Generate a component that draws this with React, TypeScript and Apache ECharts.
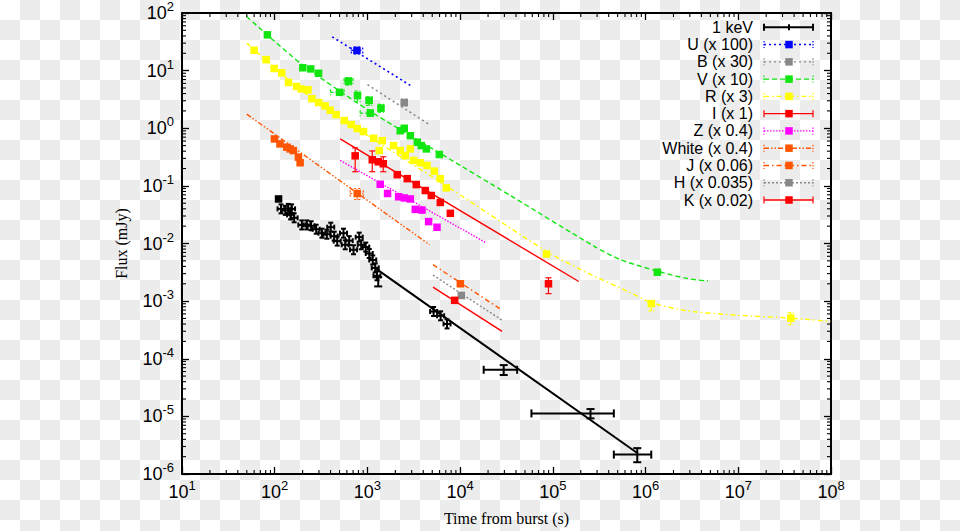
import React, { useEffect, useRef } from 'react';
import * as echarts from 'echarts';

// ---------- DATA (time in s, flux in mJy; optional: tLo, tHi, fLo, fHi) ----------
const XRAY_FIRST = [[110, 0.0593]];
const XRAY_PTS = [
  [117, 0.0399], [130, 0.0376], [140, 0.0407], [152, 0.0399], [148.5, 0.0314], [162, 0.0279],
  [196, 0.021], [222, 0.021], [247, 0.0203], [280, 0.0177], [323, 0.0151], [365, 0.0145],
  [402, 0.0192], [438, 0.0134], [472, 0.011], [552, 0.0151], [576, 0.0095], [636, 0.0112],
  [708, 0.00779], [815, 0.0129], [857, 0.0095], [959, 0.00867], [1046, 0.0067], [1141, 0.00518],
  [1214, 0.00377], [1267, 0.00275], [1308, 0.00217, 1308, 1308, 0.0018, 0.0026],
  [5173, 6.6e-4], [6157, 5.56e-4], [7220, 4.02e-4],
  [29500, 6.44e-5, 17940, 41170, 5.22e-5, 7.76e-5],
  [254700, 1.126e-5, 58750, 454700, 9.24e-6, 1.34e-5],
  [813600, 2.17e-6, 454700, 1152000, 1.6e-6, 2.81e-6],
];
const XRAY_FIT = [[1245, 0.003625], [813600, 2.31e-6]];

const U_PTS = [[770, 22.4, 670, 890, 19.5, 25.5]];
const U_FIT = [[417, 38.6], [3020, 5.32]];

const B_PTS = [[2495, 2.79, 2400, 2600, 2.45, 3.2]];
const B_FIT = [[1002, 5.7], [4570, 1.18]];

const V_PTS = [
  [83.4, 41.8], [201, 11.2], [245, 10.7], [297, 9.0],
  [500, 4.2, 400, 560, 3.8, 4.6], [625, 6.58, 560, 700, 5.6, 7.6], [782, 3.68, 760, 800, 2.9, 4.4],
  [1045, 3.05, 960, 1130, 2.5, 3.5], [1072, 1.83, 835, 1150, 1.6, 2.1], [1400, 2.23, 1300, 1500, 1.9, 2.6],
  [2260, 0.906], [2495, 1.0], [2900, 0.743], [3450, 0.572], [3810, 0.5], [4320, 0.438], [5960, 0.35],
  [1340000, 0.00318],
];
const V_FIT = [
  [50, 86.4], [188, 13.6], [988, 2.14], [6640, 0.337], [34800, 0.0681], [277000, 0.00902],
  [537000, 0.00524], [1340000, 0.00331], [2820000, 0.00247], [4710000, 0.00223],
];

const R_PTS = [
  [59.9, 22.6], [80.8, 15.5], [98.5, 10.9], [119, 9.16], [141, 6.24], [172, 5.32], [193, 4.82],
  [229, 4.64], [252, 3.25], [298, 2.79], [350, 2.44], [397, 2.06], [460, 1.72], [562, 1.36],
  [668, 1.16], [776, 0.988], [908, 0.877], [1170, 0.67], [1445, 0.609], [1341, 0.41], [1913, 0.5],
  [2260, 0.41], [2900, 0.4385], [2560, 0.336], [3146, 0.276], [3717, 0.252], [4390, 0.226],
  [5265, 0.18], [6113, 0.1335], [7096, 0.0924], [85300, 0.00657],
  [1153000, 9.06e-4, 1153000, 1153000, 6.8e-4, 1.0e-3],
  [36800000, 5.06e-4, 36800000, 36800000, 3.89e-4, 6.33e-4],
];
const R_FIT = [
  [50, 30.1], [188, 4.73], [988, 0.764], [7840, 0.0899], [85300, 0.00731], [234600, 0.0031],
  [689000, 0.0014], [1153000, 9.42e-4], [2820000, 6.78e-4], [9780000, 5.7e-4], [36800000, 5.06e-4],
  [99600000, 4.44e-4],
];

const I_PTS = [
  [738, 0.332, 690, 790, 0.176, 0.456], [1127, 0.2836, 1080, 1180, 0.176, 0.404], [1308, 0.262],
  [1481, 0.242, 1420, 1540, 0.176, 0.32], [2099, 0.1565], [2690, 0.1335], [3365, 0.1053],
  [4210, 0.083], [4887, 0.0681], [6113, 0.0516], [7840, 0.0334],
  [89700, 0.002, 86000, 93000, 0.00135, 0.00254],
];
const I_FIT = [[508, 0.652], [190400, 0.00219]];

const Z_PTS = [
  [1375, 0.1066], [1649, 0.0737], [2168, 0.0647], [2496, 0.0617], [2900, 0.0593],
  [3283, 0.0391], [3878, 0.038], [4570, 0.024], [5630, 0.01915],
];
const Z_FIT = [[508, 0.276], [18720, 0.01045]];

const WHITE_PTS = [
  [99.3, 0.652], [114, 0.535], [135, 0.469], [146.7, 0.438], [159, 0.41], [180, 0.3155], [188, 0.252],
  [776, 0.0737, 652, 902, 0.058, 0.09],
];
const WHITE_FIT = [[50, 1.756], [4684, 0.0095]];

const J_PTS = [[10050, 0.002]];
const J_FIT = [[5096, 0.0043], [28350, 6.95e-4]];

const H_PTS = [[10300, 0.001258]];
const H_FIT = [[5096, 0.002825], [28350, 4.67e-4]];

const K_PTS = [[8726, 0.001032]];
const K_FIT = [[5096, 0.001755], [28350, 2.99e-4]];

const X_DECADES = [1, 2, 3, 4, 5, 6, 7];
const Y_DECADES = [-6, -5, -4, -3, -2, -1, 0, 1];
const MINOR_MULTS = [2, 3, 4, 5, 6, 7, 8, 9];

// ---------- STYLE ----------
const GREEN = '#11e611';
const ORANGE = '#ff5500';
const GRAY = '#888888';

type Def = {
  name: string; color: string; dash: number[] | null; width: number;
  pts: number[][]; fit: number[][]; smooth?: boolean; errDash: number[] | null; kind: 'sq' | 'xr';
};

const DEFS: Def[] = [
  { name: '1 keV', color: '#000000', dash: null, width: 2, pts: XRAY_PTS, fit: XRAY_FIT, errDash: null, kind: 'xr' },
  { name: 'U (x 100)', color: '#0000ff', dash: [2, 3], width: 1.6, pts: U_PTS, fit: U_FIT, errDash: [2, 2], kind: 'sq' },
  { name: 'B (x 30)', color: GRAY, dash: [2, 3], width: 1.6, pts: B_PTS, fit: B_FIT, errDash: [2, 2], kind: 'sq' },
  { name: 'V (x 10)', color: GREEN, dash: [5, 3], width: 1.4, pts: V_PTS, fit: V_FIT, smooth: true, errDash: [3, 2], kind: 'sq' },
  { name: 'R (x 3)', color: '#ffff00', dash: [5, 3, 1.5, 3], width: 1.4, pts: R_PTS, fit: R_FIT, smooth: true, errDash: [3, 2], kind: 'sq' },
  { name: 'I (x 1)', color: '#ff0000', dash: null, width: 1.4, pts: I_PTS, fit: I_FIT, errDash: null, kind: 'sq' },
  { name: 'Z (x 0.4)', color: '#ff00ff', dash: [1.5, 1.5], width: 1.4, pts: Z_PTS, fit: Z_FIT, errDash: [1.5, 1.5], kind: 'sq' },
  { name: 'White (x 0.4)', color: ORANGE, dash: [5, 2, 1.5, 2, 1.5, 2], width: 1.4, pts: WHITE_PTS, fit: WHITE_FIT, errDash: [2, 2], kind: 'sq' },
  { name: 'J (x 0.06)', color: ORANGE, dash: [5, 3, 1.5, 3], width: 1.4, pts: J_PTS, fit: J_FIT, errDash: [2, 2], kind: 'sq' },
  { name: 'H (x 0.035)', color: GRAY, dash: [2, 2], width: 1.4, pts: H_PTS, fit: H_FIT, errDash: [2, 2], kind: 'sq' },
  { name: 'K (x 0.02)', color: '#ff0000', dash: null, width: 1.4, pts: K_PTS, fit: K_FIT, errDash: null, kind: 'sq' },
];

const SQ = 7.5;

const norm = (pts: number[][]) =>
  pts.map((p) => (p.length >= 6 ? p : [p[0], p[1], p[0], p[0], p[1], p[1]]));

function makeRender(color: string, errDash: number[] | null, kind: 'sq' | 'xr' | 'xrsq') {
  return (_params: any, api: any) => {
    const t = api.value(0), f = api.value(1);
    const tl = api.value(2), th = api.value(3), fl = api.value(4), fh = api.value(5);
    const c = api.coord([t, f]);
    const kids: any[] = [];
    const lw = kind === 'sq' ? 1.2 : 2;
    const st: any = { stroke: color, lineWidth: lw, fill: null };
    if (errDash) st.lineDash = errDash;
    const ln = (x1: number, y1: number, x2: number, y2: number) =>
      kids.push({ type: 'line', shape: { x1, y1, x2, y2 }, style: st });
    const hasErr = tl !== t || th !== t || fl !== f || fh !== f;
    if (hasErr) {
      const cap = kind === 'sq' ? 3 : 4;
      if (tl !== t || th !== t) {
        const a = api.coord([tl, f])[0], b = api.coord([th, f])[0];
        ln(a, c[1], b, c[1]); ln(a, c[1] - cap, a, c[1] + cap); ln(b, c[1] - cap, b, c[1] + cap);
      }
      if (fl !== f || fh !== f) {
        const a = api.coord([t, fl])[1], b = api.coord([t, fh])[1];
        ln(c[0], a, c[0], b); ln(c[0] - cap, a, c[0] + cap, a); ln(c[0] - cap, b, c[0] + cap, b);
      }
    } else if (kind === 'xr') {
      ln(c[0] - 3.5, c[1], c[0] + 3.5, c[1]);
      ln(c[0] - 3.5, c[1] - 2.5, c[0] - 3.5, c[1] + 2.5);
      ln(c[0] + 3.5, c[1] - 2.5, c[0] + 3.5, c[1] + 2.5);
      ln(c[0], c[1] - 4.5, c[0], c[1] + 4.5);
      ln(c[0] - 2.5, c[1] - 4.5, c[0] + 2.5, c[1] - 4.5);
      ln(c[0] - 2.5, c[1] + 4.5, c[0] + 2.5, c[1] + 4.5);
    }
    if (kind === 'sq' || kind === 'xrsq') {
      kids.push({ type: 'rect', shape: { x: c[0] - SQ / 2, y: c[1] - SQ / 2, width: SQ, height: SQ }, style: { fill: color } });
    }
    return { type: 'group', children: kids };
  };
}

const X_MINOR = X_DECADES.flatMap((e) => MINOR_MULTS.map((m) => m * Math.pow(10, e)));
const Y_MINOR = Y_DECADES.flatMap((e) => MINOR_MULTS.map((m) => m * Math.pow(10, e)));

const tickLabel = (v: number) => {
  const e = Math.round(Math.log10(v));
  return '{b|10}{s|' + e + '}';
};
const RICH = {
  b: { fontSize: 18, fontFamily: 'Liberation Sans', color: '#000', lineHeight: 26 },
  s: { fontSize: 13, fontFamily: 'Liberation Sans', color: '#000', lineHeight: 13, verticalAlign: 'top' },
};

function buildOption() {
  const axisCommon: any = {
    type: 'log', logBase: 10, interval: 1,
    splitLine: { show: false },
    axisLine: { onZero: false, lineStyle: { color: '#000', width: 2 } },
    axisTick: { inside: true, length: 7, lineStyle: { color: '#000', width: 1.3 } },
    minorTick: { show: false },
  };
  const series: any[] = [];
  DEFS.forEach((d) => {
    series.push({
      type: 'line', name: d.name + ' fit', data: d.fit, showSymbol: false, symbol: 'none',
      silent: true, smooth: d.smooth ? 0.25 : false, z: 2,
      lineStyle: { color: d.color, width: d.width, type: d.dash || 'solid' },
    });
  });
  DEFS.forEach((d) => {
    series.push({
      type: 'custom', name: d.name, data: norm(d.pts), encode: { x: 0, y: 1 },
      renderItem: makeRender(d.color, d.errDash, d.kind), silent: true, z: 3, clip: false,
    });
  });
  series.push({
    type: 'custom', name: 'xray-first', data: norm(XRAY_FIRST), encode: { x: 0, y: 1 },
    renderItem: makeRender('#000', null, 'xrsq'), silent: true, z: 3,
  });
  series.push({
    type: 'custom', name: 'xminor', data: X_MINOR.map((v) => [v, 1]), encode: { x: 0, y: 1 }, silent: true, z: 5, clip: false,
    renderItem: (params: any, api: any) => {
      const cs = params.coordSys;
      const x = api.coord([api.value(0), 1])[0];
      const st = { stroke: '#000', lineWidth: 1.1 };
      return {
        type: 'group', children: [
          { type: 'line', shape: { x1: x, y1: cs.y + cs.height, x2: x, y2: cs.y + cs.height - 4 }, style: st },
          { type: 'line', shape: { x1: x, y1: cs.y, x2: x, y2: cs.y + 4 }, style: st },
        ],
      };
    },
  });
  series.push({
    type: 'custom', name: 'yminor', data: Y_MINOR.map((v) => [100, v]), encode: { x: 0, y: 1 }, silent: true, z: 5, clip: false,
    renderItem: (params: any, api: any) => {
      const cs = params.coordSys;
      const y = api.coord([100, api.value(1)])[1];
      const st = { stroke: '#000', lineWidth: 1.1 };
      return {
        type: 'group', children: [
          { type: 'line', shape: { x1: cs.x, y1: y, x2: cs.x + 4, y2: y }, style: st },
          { type: 'line', shape: { x1: cs.x + cs.width, y1: y, x2: cs.x + cs.width - 4, y2: y }, style: st },
        ],
      };
    },
  });

  const legend: any[] = [];
  const y0 = 27.3, dy = 17.27;
  DEFS.forEach((d, i) => {
    const y = y0 + i * dy;
    legend.push({
      type: 'text', x: 753, y,
      style: {
        text: d.name, fill: '#000', fontSize: 16, fontFamily: 'Liberation Sans',
        align: 'right', verticalAlign: 'middle', textAlign: 'right', textVerticalAlign: 'middle',
      },
    });
    const ls: any = { stroke: d.color, lineWidth: d.name === '1 keV' ? 2 : 1.4 };
    if (d.dash) ls.lineDash = d.dash;
    legend.push({ type: 'line', shape: { x1: 764, y1: y, x2: 813, y2: y }, style: ls });
    const cs: any = { stroke: d.color, lineWidth: d.name === '1 keV' ? 2 : 1.2 };
    if (d.errDash) cs.lineDash = [1.5, 1.5];
    legend.push({ type: 'line', shape: { x1: 764, y1: y - 3.5, x2: 764, y2: y + 3.5 }, style: cs });
    legend.push({ type: 'line', shape: { x1: 813, y1: y - 3.5, x2: 813, y2: y + 3.5 }, style: cs });
    if (d.kind === 'xr') {
      legend.push({ type: 'line', shape: { x1: 789, y1: y - 3, x2: 789, y2: y + 3 }, style: { stroke: '#000', lineWidth: 2 } });
    } else {
      legend.push({ type: 'rect', shape: { x: 789 - SQ / 2, y: y - SQ / 2, width: SQ, height: SQ }, style: { fill: d.color } });
    }
  });

  return {
    animation: false,
    backgroundColor: 'transparent',
    grid: { left: 182, top: 13, width: 649, height: 465, containLabel: false },
    xAxis: [
      {
        ...axisCommon, min: 10, max: 1e8, position: 'bottom',
        axisLabel: { formatter: tickLabel, rich: RICH, margin: 5, color: '#000' },
        name: 'Time from burst (s)', nameLocation: 'middle', nameGap: 36,
        nameTextStyle: { fontFamily: 'Liberation Serif', fontSize: 16, color: '#000' },
      },
      { ...axisCommon, min: 10, max: 1e8, position: 'top', axisLabel: { show: false } },
    ],
    yAxis: [
      {
        ...axisCommon, min: 1e-6, max: 100, position: 'left',
        axisLabel: { formatter: tickLabel, rich: RICH, margin: 8, color: '#000' },
        name: 'Flux (mJy)', nameLocation: 'middle', nameGap: 53,
        nameTextStyle: { fontFamily: 'Liberation Serif', fontSize: 16, color: '#000' },
      },
      { ...axisCommon, min: 1e-6, max: 100, position: 'right', axisLabel: { show: false } },
    ],
    series,
    graphic: legend,
  };
}

export default function App() {
  const ref = useRef<HTMLDivElement>(null);
  useEffect(() => {
    if (!ref.current) return;
    const chart = echarts.init(ref.current, undefined, { renderer: 'svg' });
    chart.setOption(buildOption() as any);
    return () => chart.dispose();
  }, []);
  return (
    <div
      style={{
        position: 'fixed', left: 0, top: 0, width: 960, height: 531,
        backgroundColor: '#fff',
        backgroundImage: 'repeating-conic-gradient(#ececec 0 25%, #ffffff 0 50%)',
        backgroundSize: '40px 40px',
        backgroundPosition: '0 0',
      }}
    >
      <div ref={ref} style={{ width: 960, height: 531 }} />
    </div>
  );
}
